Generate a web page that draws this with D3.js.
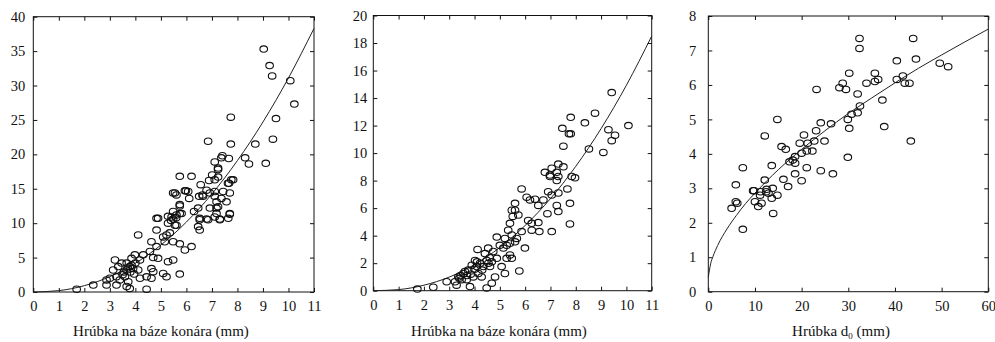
<!DOCTYPE html>
<html>
<head>
<meta charset="utf-8">
<script src="https://cdn.jsdelivr.net/npm/d3@7"></script>
<style>
  body { margin: 0; background: #fff; }
  svg { display: block; }
  text { font-family: "Liberation Serif", "Times New Roman", serif; fill: #111; }
</style>
</head>
<body>
<svg id="chart" width="995" height="342"></svg>
<script>
// measured values, [x, y]
var p1Points = [
  [9.03,35.3],[9.26,32.9],[9.36,31.4],[10.07,30.7],[10.23,27.3],[9.51,25.2],[7.74,25.4],[6.85,21.9],[7.74,21.5],
  [8.70,21.5],[9.39,22.2],[8.30,19.5],[8.45,18.6],[9.11,18.7],[7.11,18.9],[7.37,19.5],[7.41,19.8],[7.66,19.4],
  [7.24,18.0],[5.74,16.8],[6.20,16.8],[7.01,17.0],[7.24,16.7],[7.67,15.8],[7.83,16.3],[6.56,15.6],[5.94,14.7],
  [6.63,14.1],[5.48,14.4],[5.61,14.1],[6.07,14.6],[7.11,14.6],[6.92,14.4],[7.37,13.6],[7.70,14.4],[6.11,13.6],
  [6.50,13.9],[7.24,12.4],[7.18,11.4],[7.70,11.3],[7.64,10.7],[7.31,10.5],[6.85,10.5],[6.52,9.0],[6.52,10.5],
  [6.30,11.7],[6.46,12.2],[5.74,12.7],[5.48,11.7],[5.61,11.2],[5.81,11.4],[5.28,11.0],[5.28,10.0],[5.61,9.7],
  [5.48,10.6],[4.83,10.7],[4.83,9.0],[4.11,8.3],[5.22,8.3],[5.35,8.6],[5.09,8.0],[5.15,7.3],[5.48,7.3],
  [5.74,7.0],[5.94,6.1],[6.20,6.6],[4.63,7.3],[4.83,6.6],[4.57,5.9],[4.31,5.4],[4.70,5.0],[4.89,4.9],
  [5.28,4.4],[5.48,4.65],[3.98,5.4],[3.85,4.9],[4.18,4.65],[3.46,4.2],[3.66,4.2],[3.33,3.7],[3.78,3.7],
  [3.91,3.4],[3.66,3.2],[4.11,3.2],[3.13,3.2],[3.26,2.2],[3.0,2.0],[2.87,1.0],[3.26,1.0],[3.39,1.75],
  [3.59,2.2],[3.72,1.5],[3.66,0.8],[3.78,0.5],[4.18,2.0],[4.44,2.2],[4.63,2.0],[4.63,3.4],[4.70,2.95],
  [4.44,0.4],[5.09,2.7],[5.22,2.2],[5.74,2.6],[2.87,1.75],[2.35,1.0],[1.70,0.4],[3.20,4.65],[7.24,17.8],
  [7.11,16.3],[6.89,16.2],[7.76,16.3],[7.63,15.8],[5.55,14.4],[5.98,14.7],[6.79,14.8],[6.65,13.9],[7.11,13.9],
  [7.18,13.1],[6.92,12.2],[7.18,12.2],[7.44,14.6],[7.57,13.1],[5.74,12.5],[5.42,10.9],[5.74,11.4],[6.52,10.7],
  [6.79,10.6],[7.11,10.9],[7.31,10.6],[7.70,11.4],[4.89,10.7],[6.46,9.5],[5.55,9.7],[3.85,3.9],[3.55,2.9],
  [3.70,3.5],[3.95,2.6],[3.50,2.5],[4.00,4.2],[3.80,2.9],[5.40,10.4],[5.60,10.8]
];
var p2Points = [
  [9.42,14.4],[8.76,12.9],[7.80,12.6],[8.36,12.2],[7.47,11.8],[7.73,11.4],[7.80,11.4],[9.29,11.7],[9.55,11.3],
  [9.42,10.9],[10.08,12.0],[7.51,10.5],[8.52,10.3],[9.09,10.05],[7.31,9.2],[7.51,9.0],[7.05,8.9],[6.78,8.6],
  [6.98,8.4],[7.25,8.6],[7.31,8.3],[7.84,8.3],[6.98,8.3],[7.97,8.2],[7.67,7.4],[7.25,8.0],[6.91,7.2],
  [7.05,6.95],[6.72,6.6],[7.31,7.1],[7.25,6.2],[7.31,5.75],[6.88,5.6],[6.52,6.2],[7.77,6.35],[7.77,4.85],
  [7.05,4.3],[5.86,7.4],[6.06,6.8],[6.19,6.6],[6.39,6.65],[6.12,5.1],[6.26,4.9],[6.52,4.95],[6.56,4.3],
  [6.26,4.4],[5.60,6.35],[5.47,5.85],[5.60,5.85],[5.73,5.5],[5.51,5.4],[5.40,4.9],[5.33,4.4],[5.86,4.3],
  [5.47,4.05],[5.67,3.8],[5.60,3.55],[5.99,3.1],[5.40,3.45],[5.27,3.3],[5.14,3.1],[5.20,3.8],[4.88,3.9],
  [5.0,3.3],[5.40,2.6],[5.47,2.35],[5.27,2.35],[5.77,1.43],[4.74,2.85],[4.88,2.35],[4.68,2.1],[4.48,2.2],
  [4.35,1.75],[4.61,1.75],[5.07,1.75],[5.20,1.25],[4.81,1.0],[4.68,0.55],[4.48,0.2],[4.12,3.0],[4.02,2.2],
  [4.09,1.75],[3.89,1.85],[3.75,1.5],[3.56,1.25],[3.36,1.0],[3.49,0.8],[3.69,0.8],[3.23,0.65],[3.29,0.4],
  [3.82,0.3],[3.95,1.0],[4.15,1.25],[4.28,1.0],[3.62,1.4],[2.90,0.65],[2.37,0.25],[1.74,0.12],[4.22,2.0],
  [4.41,2.7],[4.54,3.1],[4.30,1.5],[3.85,1.2],[4.00,1.55],[3.45,1.1],[4.60,2.4],[3.70,1.1],[4.10,2.1],
  [4.55,2.0],[3.40,0.9]
];
var p3Points = [
  [43.9,7.35],[32.4,7.35],[32.4,7.06],[40.4,6.70],[44.5,6.75],[49.6,6.63],[51.4,6.53],[30.2,6.34],[35.7,6.34],
  [35.7,6.10],[36.4,6.16],[33.9,6.05],[28.8,6.05],[28.1,5.92],[29.5,5.87],[23.2,5.87],[32.0,5.74],[40.4,6.16],
  [41.7,6.26],[42.1,6.05],[43.1,6.05],[37.3,5.56],[32.5,5.39],[30.7,5.15],[32.0,5.19],[29.9,5.00],[30.2,4.74],
  [37.7,4.79],[26.3,4.87],[24.1,4.90],[23.1,4.67],[14.8,5.00],[12.1,4.52],[20.5,4.55],[22.7,4.37],[24.9,4.37],
  [21.3,4.31],[19.6,4.31],[21.1,4.08],[22.3,4.08],[20.0,4.02],[15.7,4.21],[16.6,4.13],[18.6,3.92],[18.1,3.82],
  [17.4,3.77],[18.6,3.73],[29.9,3.90],[43.4,4.37],[21.1,3.60],[13.6,3.66],[7.4,3.60],[24.1,3.51],[16.1,3.26],
  [18.6,3.42],[20.0,3.22],[26.7,3.42],[17.1,3.05],[12.1,3.24],[13.8,3.0],[14.8,2.80],[13.6,2.71],[13.9,2.27],
  [9.6,2.93],[11.1,2.80],[12.4,2.90],[12.9,2.86],[10.0,2.61],[10.7,2.47],[11.4,2.57],[5.9,3.10],[5.9,2.61],
  [6.2,2.57],[5.0,2.42],[7.4,1.81],[9.8,2.93],[11.2,2.9],[12.5,2.97]
];

// fitted curves
var p1Curve = [[0,0],[1,0.2],[2,0.92],[3,2.23],[4,4.18],[5,6.82],[6,10.17],[7,14.25],[8,19.1],[9,24.7],[10,31.1],[11,38.3]];
var p2Curve = [[0,0],[1,0.08],[2,0.40],[3,0.99],[4,1.9],[5,3.14],[6,4.74],[7,6.69],[8,9.04],[9,11.78],[10,14.93],[11,18.5]];
var p3Curve = [[0,0.42],[0.5,0.81],[1,1.02],[2,1.34],[4,1.82],[6,2.21],[8,2.56],[10,2.86],[15,3.54],[20,4.13],
  [25,4.67],[30,5.17],[35,5.62],[40,6.06],[45,6.48],[50,6.87],[55,7.25],[60,7.62]];

var xTicks11 = [0,1,2,3,4,5,6,7,8,9,10,11];
var xTicks60 = [0,10,20,30,40,50,60];
var p1YTicks = [0,5,10,15,20,25,30,35,40];
var p2YTicks = [0,2,4,6,8,10,12,14,16,18,20];
var p3YTicks = [0,1,2,3,4,5,6,7,8];

var titleMain = "Hrúbka na báze konára (mm)";

var panels = [
  {left: 33.3, right: 314, top: 16.7, bottom: 292, xMax: 11, yMax: 40, xTicks: xTicks11, yTicks: p1YTicks,
   pts: p1Points, curve: p1Curve, yPad: 8, titleX: 161},
  {left: 373.3, right: 651.7, top: 15.5, bottom: 290.7, xMax: 11, yMax: 20, xTicks: xTicks11, yTicks: p2YTicks,
   pts: p2Points, curve: p2Curve, yPad: 6, titleX: 499},
  {left: 708.3, right: 988.3, top: 16, bottom: 291.7, xMax: 60, yMax: 8, xTicks: xTicks60, yTicks: p3YTicks,
   pts: p3Points, curve: p3Curve, yPad: 12, titleX: 841, sub: true}
];

var svg = d3.select("#chart");

panels.forEach(function(p) {
  var x = d3.scaleLinear().domain([0, p.xMax]).range([p.left, p.right]);
  var y = d3.scaleLinear().domain([0, p.yMax]).range([p.bottom, p.top]);
  var g = svg.append("g");

  // frame
  g.append("rect")
    .attr("x", p.left).attr("y", p.top)
    .attr("width", p.right - p.left).attr("height", p.bottom - p.top)
    .attr("fill", "none").attr("stroke", "#111").attr("stroke-width", 1);

  var bottomAx = g.append("g").attr("transform", "translate(0," + p.bottom + ")")
    .call(d3.axisBottom(x).tickValues(p.xTicks).tickSizeInner(-4).tickSizeOuter(0).tickPadding(9));
  var topAx = g.append("g").attr("transform", "translate(0," + p.top + ")")
    .call(d3.axisTop(x).tickValues(p.xTicks).tickSizeInner(-4).tickSizeOuter(0).tickFormat(""));
  var leftAx = g.append("g").attr("transform", "translate(" + p.left + ",0)")
    .call(d3.axisLeft(y).tickValues(p.yTicks).tickSizeInner(-4).tickSizeOuter(0).tickPadding(p.yPad));
  var rightAx = g.append("g").attr("transform", "translate(" + p.right + ",0)")
    .call(d3.axisRight(y).tickValues(p.yTicks).tickSizeInner(-4).tickSizeOuter(0).tickFormat(""));

  [bottomAx, topAx, leftAx, rightAx].forEach(function(a) {
    a.select(".domain").remove();
    a.selectAll("line").attr("stroke", "#111");
    a.selectAll("text").style("font-family", "'Liberation Serif', serif").style("font-size", "14.5px").attr("fill", "#111");
  });

  // fitted curve
  var line = d3.line()
    .x(function(d) { return x(d[0]); })
    .y(function(d) { return y(d[1]); })
    .curve(d3.curveMonotoneX);
  g.append("path")
    .datum(p.curve)
    .attr("d", line)
    .attr("fill", "none").attr("stroke", "#222").attr("stroke-width", 1);

  // observations
  g.selectAll(".pt")
    .data(p.pts)
    .enter().append("ellipse")
    .attr("class", "pt")
    .attr("cx", function(d) { return x(d[0]); })
    .attr("cy", function(d) { return y(d[1]); })
    .attr("rx", 3.8).attr("ry", 3.2)
    .attr("fill", "none").attr("stroke", "#111").attr("stroke-width", 1.1);

  // x title
  var t = svg.append("text")
    .attr("x", p.titleX).attr("y", 336)
    .attr("text-anchor", "middle")
    .style("font-size", "15px");
  if (p.sub) {
    t.append("tspan").text("Hrúbka d");
    t.append("tspan").attr("font-size", "9px").attr("dy", 3).text("0");
    t.append("tspan").attr("dy", -3).text(" (mm)");
  } else {
    t.text(titleMain);
  }
});
</script>
</body>
</html>
